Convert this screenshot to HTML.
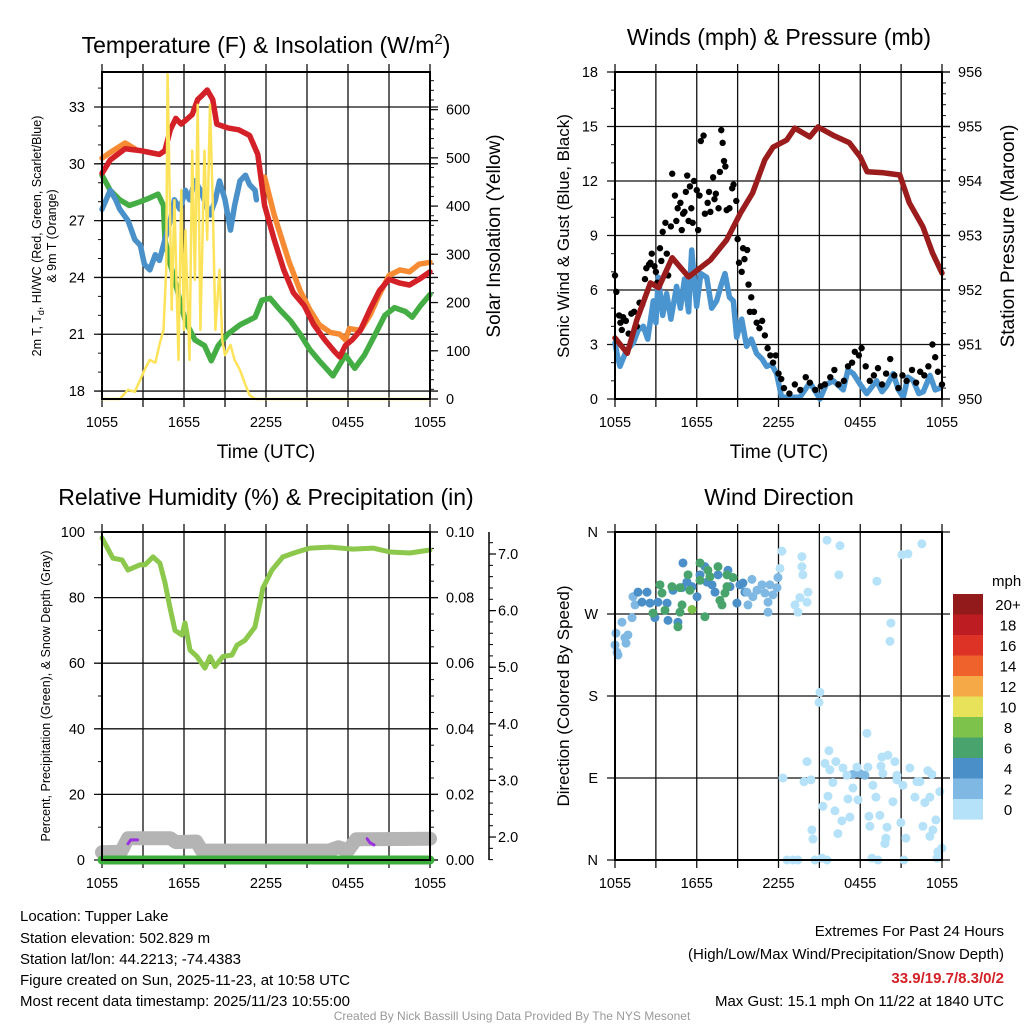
<!DOCTYPE html>
<html><head><meta charset="utf-8"><style>
html,body{margin:0;padding:0;background:#fff;}
svg{display:block;font-family:"Liberation Sans",Arial,sans-serif;}
</style></head><body>
<svg id="s" width="1024" height="1024" viewBox="0 0 1024 1024" xmlns="http://www.w3.org/2000/svg">
<rect x="0" y="0" width="1024" height="1024" fill="#fff"/>
<g id="layer"></g>
<text x="266" y="53" font-size="23" text-anchor="middle">Temperature (F) &amp; Insolation (W/m<tspan dy="-9" font-size="15">2</tspan><tspan dy="9">)</tspan></text>
<text x="779" y="45" font-size="23" text-anchor="middle">Winds (mph) &amp; Pressure (mb)</text>
<text x="266" y="505" font-size="23" text-anchor="middle">Relative Humidity (%) &amp; Precipitation (in)</text>
<text x="779" y="505" font-size="23" text-anchor="middle">Wind Direction</text>
<text x="266" y="458" font-size="19" text-anchor="middle">Time (UTC)</text>
<text x="779" y="458" font-size="19" text-anchor="middle">Time (UTC)</text>
<text transform="translate(41,236) rotate(-90)" font-size="12.5" text-anchor="middle">2m T, T<tspan dy="3" font-size="9">d</tspan><tspan dy="-3">, HI/WC (Red, Green, Scarlet/Blue)</tspan></text>
<text transform="translate(56,236) rotate(-90)" font-size="12.5" text-anchor="middle">&amp; 9m T (Orange)</text>
<text transform="translate(500,236) rotate(-90)" font-size="19" text-anchor="middle">Solar Insolation (Yellow)</text>
<text transform="translate(569,236) rotate(-90)" font-size="17" text-anchor="middle">Sonic Wind &amp; Gust (Blue, Black)</text>
<text transform="translate(1014,236) rotate(-90)" font-size="19" text-anchor="middle">Station Pressure (Maroon)</text>
<text transform="translate(50,696) rotate(-90)" font-size="12.5" text-anchor="middle">Percent, Precipitation (Green), &amp; Snow Depth (Gray)</text>
<text transform="translate(569,696) rotate(-90)" font-size="17" text-anchor="middle">Direction (Colored By Speed)</text>
<text x="992" y="586" font-size="15">mph</text>
<g font-size="15" fill="#000">
<text x="20" y="921">Location: Tupper Lake</text>
<text x="20" y="943">Station elevation: 502.829 m</text>
<text x="20" y="964">Station lat/lon: 44.2213; -74.4383</text>
<text x="20" y="985">Figure created on Sun, 2025-11-23, at 10:58 UTC</text>
<text x="20" y="1006">Most recent data timestamp: 2025/11/23 10:55:00</text>
</g>
<g font-size="15" text-anchor="end">
<text x="1004" y="936">Extremes For Past 24 Hours</text>
<text x="1004" y="959">(High/Low/Max Wind/Precipitation/Snow Depth)</text>
<text x="1004" y="983" fill="#d42027" font-weight="bold">33.9/19.7/8.3/0/2</text>
<text x="1004" y="1006">Max Gust: 15.1 mph On 11/22 at 1840 UTC</text>
</g>
<text x="512" y="1020" font-size="12" fill="#999" text-anchor="middle">Created By Nick Bassill Using Data Provided By The NYS Mesonet</text>
</svg>
<script>
// ---------- data ----------
const xTickLabels=["1055","1655","2255","0455","1055"];
const redT=[0,0.6,1.7,2.8,3.5,4.2,4.6,5.0,5.4,5.8,6.6,7.0,7.3,7.7,8.1,8.4,9.2,10.0,10.8,11.4,11.9,12.6,13.3,14.0,14.8,15.5,16.3,17.0,17.4,17.8,18.3,18.9,19.6,20.3,21.0,21.8,22.5,23.2,24];
const redV=[29.5,30.2,30.8,30.7,30.6,30.5,30.7,31.8,32.4,32.1,32.6,33.4,33.6,33.9,33.4,32.1,31.9,31.8,31.5,30.5,27.8,26.0,24.4,23.2,22.5,21.5,20.7,20.1,19.8,20.4,20.7,21.2,22.3,23.3,23.9,23.7,23.6,23.9,24.3];
const orangeT=[0,0.6,1.7,2.4,2.5,11.9,12.6,13.7,14.5,15.2,15.9,16.7,17.4,17.8,18.1,18.9,19.6,20.3,21.0,21.8,22.5,23.2,24];
const orangeV=[30.3,30.6,31.1,30.8,null,29.3,27.3,24.8,23.3,22.3,21.5,21.1,21.0,20.7,21.3,21.2,22.0,23.1,24.1,24.4,24.3,24.7,24.8];
const greenT=[0,0.6,1.3,2.0,2.8,3.5,4.1,4.5,4.6,5.0,5.3,5.7,6.1,6.8,7.5,8.0,8.5,9.2,10.1,11.2,11.7,12.3,13.0,13.8,14.5,15.2,15.9,16.9,17.4,17.8,18.5,19.2,20.0,20.7,21.4,22.2,22.7,23.3,24];
const greenV=[29.4,28.6,28.1,27.8,28.0,28.2,28.4,27.8,26.0,24.7,23.9,22.8,21.7,20.7,20.4,19.6,20.4,21.0,21.5,21.9,22.8,22.9,22.3,21.7,21.0,20.2,19.6,18.8,19.4,19.9,19.2,19.9,21.0,22.0,22.4,22.2,21.9,22.5,23.1];
const blueT=[0,0.6,1.0,1.3,1.9,2.4,2.8,3.1,3.5,3.9,4.2,4.6,5.0,5.3,5.7,6.1,6.4,6.8,7.2,7.9,8.3,8.6,9.0,9.4,9.7,10.1,10.5,10.8,11.2,11.3];
const blueV=[27.6,28.6,28.1,27.6,27.0,26.0,25.7,24.7,24.4,25.2,24.9,26.0,27.0,28.1,27.6,28.6,28.1,29.1,28.6,27.3,28.1,29.1,28.1,26.5,27.8,29.1,29.4,28.9,28.6,28.1];
const solarT=[0,1.3,1.9,2.4,2.8,3.1,3.5,3.9,4.2,4.5,4.7,4.8,5.1,5.3,5.6,5.8,6.0,6.1,6.4,6.6,6.8,7.0,7.2,7.5,7.7,7.9,8.1,8.3,8.6,8.8,9.0,9.4,9.7,10.1,10.5,10.8,11.2,24];
const solarV=[0,0,19,15,40,60,81,75,112,143,268,678,185,412,81,434,143,350,81,515,247,610,143,515,330,610,412,143,268,122,91,112,81,60,29,8,0,0];
const presT=[0,0.9,1.6,2.6,3.2,4.2,5.4,7.0,8.2,9.2,10.1,11.0,11.6,12.6,13.2,14.3,14.9,16.0,17.2,18.0,18.5,19.7,20.9,21.6,22.6,23.3,24];
const presV=[951.12,950.84,951.45,952.13,952.04,952.59,952.24,952.55,952.92,953.41,953.78,954.39,954.62,954.75,954.97,954.81,954.99,954.84,954.70,954.44,954.17,954.15,954.11,953.60,953.16,952.68,952.31];
const windT=[0,0.2,0.37,0.8,1.34,1.7,2.08,2.4,2.81,3.0,3.18,3.5,3.79,4.1,4.52,4.8,5.1,5.4,5.63,5.99,6.3,6.73,7.1,7.46,7.8,8.07,8.4,8.68,8.93,9.3,9.66,10.0,10.39,10.8,11.13,11.5,11.86,12.23,13.0,13.57,14.31,15.04,15.5,16.02,16.75,17.1,17.49,18.0,18.47,19.2,19.6,19.93,20.42,20.8,21.16,21.5,21.89,22.3,22.63,23.12,23.5,23.86,24];
const windV=[3.1,2.3,1.8,2.6,3.1,3.8,4.0,3.3,5.4,4.2,6.7,4.6,5.8,4.4,6.2,5.0,6.6,4.8,8.2,5.1,6.9,6.7,5.0,5.4,6.3,6.9,5.6,5.4,3.4,4.4,2.9,3.3,2.5,2.2,1.8,1.9,1.4,0.1,0.1,0.1,0.9,0.0,0.8,1.0,0.5,1.6,1.4,0.8,0.3,1.0,0.4,0.7,1.4,0.5,0.1,1.2,1.0,0.3,0.4,1.3,0.5,0.6,0.8];
const gustT=[0,0.1,0.3,0.4,0.5,0.6,0.8,1.0,1.2,1.4,1.6,1.8,2.0,2.2,2.3,2.5,2.6,2.7,2.9,3.0,3.1,3.3,3.4,3.5,3.7,3.8,3.9,4.1,4.2,4.4,4.5,4.6,4.8,4.9,5.0,5.1,5.2,5.3,5.4,5.5,5.6,5.7,5.8,6.0,6.1,6.2,6.3,6.5,6.6,6.8,6.9,7.0,7.2,7.3,7.4,7.6,7.7,7.8,7.9,8.0,8.1,8.2,8.4,8.6,8.7,8.9,9.0,9.1,9.3,9.4,9.5,9.7,9.8,9.9,10.0,10.2,10.4,10.6,10.8,11.0,11.2,11.4,11.6,11.8,12.0,12.2,12.4,12.8,13.2,13.6,14.0,14.3,14.7,15.1,15.4,15.8,16.1,16.4,16.8,17.1,17.4,17.6,17.9,18.1,18.4,18.7,19.0,19.3,19.6,19.9,20.2,20.5,20.8,21.1,21.4,21.8,22.1,22.4,22.7,23.0,23.3,23.5,23.7,24.0];
const gustV=[6.8,5.9,4.6,4.2,3.8,4.5,4.3,3.6,4.7,4.8,4.0,5.3,5.2,6.6,7.2,7.4,7.5,8.0,7.3,7.0,6.4,8.3,7.6,9.2,9.7,8.0,6.8,9.5,12.4,11.2,9.8,10.5,10.8,9.3,10.2,10.3,11.4,12.3,9.8,11.7,10.5,9.7,12.0,11.5,9.3,11.2,14.2,14.5,10.2,10.8,11.4,10.3,12.2,11.0,11.3,10.5,12.5,14.8,14.1,13.1,12.8,10.4,10.5,11.6,11.8,10.9,8.8,7.5,7.0,8.3,7.7,8.2,6.3,4.8,5.6,4.8,4.2,3.9,4.3,3.5,2.8,2.4,2.0,2.4,1.4,1.1,0.6,0.3,0.8,0.5,1.2,0.9,0.5,0.7,0.8,1.2,1.6,0.8,1.0,1.8,2.0,2.6,2.4,2.8,1.8,1.0,1.3,1.7,0.8,1.4,2.2,1.3,0.6,1.3,1.0,1.6,0.9,1.5,1.3,1.8,3.0,2.3,1.5,0.8];
const rhT=[0,0.8,1.46,1.9,2.78,3.15,3.73,4.24,4.61,4.97,5.34,5.85,6.07,6.44,6.95,7.53,7.9,8.27,8.85,9.51,9.88,10.46,11.19,11.56,11.78,12.44,13.24,14.26,15.22,16.68,18.36,19.82,21.07,22.53,24];
const rhV=[98.2,92,91.5,88.4,90,90,92.4,90.5,84.5,77,70,68.6,72.3,64,62,58.5,62,59,62,62.5,65.5,67,71,78.4,83,88.4,92.4,93.9,95.1,95.4,94.8,95.1,93.9,93.6,94.5];
const precipT=[0,24];
const precipV=[0,0];
const snowT=[0,1.4,1.9,5.0,5.4,6.9,7.3,16.6,17.3,18.0,18.6,24];
const snowV=[1.73,1.74,1.98,1.98,1.91,1.92,1.76,1.76,1.82,1.76,1.96,1.97];
const snowAltT=[1.9,2.1,2.6];
const snowAltV=[1.88,1.95,1.95];
const snowAlt2T=[19.4,19.6,19.9];
const snowAlt2V=[1.97,1.9,1.86];
const dirT=[0,0.15,0.22,0.07,0.51,0.73,0.95,0.81,1.25,1.32,1.47,
1.69,1.98,2.35,2.57,2.93,3.15,3.82,3.89,4.26,4.62,4.92,4.99,5.28,5.65,6.02,6.24,6.60,6.75,7.12,7.34,7.56,8.29,8.44,8.95,9.17,9.54,9.39,
2.79,3.30,3.45,3.67,4.18,4.62,4.77,4.92,5.36,5.50,6.24,6.24,6.60,6.82,6.97,7.56,7.70,7.85,8.07,8.22,8.22,8.66,4.77,5.65,
9.68,10.05,10.12,10.42,10.79,11.0,11.23,11.37,11.59,11.89,11.96,11.23,9.76,17.46,17.98,18.34,
12.25,12.11,13.21,13.43,13.57,13.72,13.72,13.79,14.16,14.09,15.56,16.51,16.43,19.22,21.06,21.50,22.52,20.25,20.18,15.04,14.97,18.49,15.70,14.09,15.41,15.77,16.21,16.73,17.02,17.76,18.56,19.52,19.59,20.03,20.54,19.66,20.69,21.64,22.96,23.26,12.33,13.87,14.38,15.99,17.46,18.93,20.69,21.13,22.16,22.38,23.84,15.63,17.10,17.83,19.15,20.40,22.01,22.74,23.11,15.26,16.14,17.24,18.64,19.44,16.65,18.71,19.96,20.98,22.60,23.55,14.45,16.36,23.33,14.53,19.88,21.35,23.11,19.81,23.70,23.99,12.62,13.06,13.43,14.67,15.19,15.56,18.86,19.30,21.20,23.63];
const dirV=[236,228,225,249,261,244,247,238,266,289,280,
294,283,294,282,266,283,282,263,296,261,299,326,305,300,289,313,322,305,302,294,313,318,300,282,302,294,304,
271,302,293,274,300,256,272,280,313,296,326,307,267,318,311,322,285,280,293,313,300,310,299,275,
294,308,289,296,302,293,283,302,291,299,310,272,280,94,95,93,
339,320,280,272,288,333,322,313,294,283,351,345,313,306,335,336,347,260,240,184,173,139,120,108,106,99,108,101,93,102,102,103,113,115,108,95,93,101,98,94,90,86,88,85,79,82,88,82,86,86,75,70,67,66,69,64,69,63,69,59,54,47,48,49,43,37,36,41,37,44,33,29,33,23,24,24,26,18,9,13,0,0,0,0,2,0,2,0,0,2];
const dirSpd=[3,3,3,3,3,3,3,3,3,3,3,
5,5,5,5,5,5,5,5,5,5,5,5,5,5,5,5,5,5,5,5,5,5,5,5,5,5,5,
7,7,7,7,7,7,7,7,7,7,7,7,7,7,7,7,7,7,7,7,7,7,7,9,
3,3,3,3,3,3,3,3,3,3,3,3,3,3,3,3,
1,1,1,1,1,1,1,1,1,1,1,1,1,1,1,1,1,1,1,1,1,1,1,1,1,1,1,1,1,1,1,1,1,1,1,1,1,1,1,1,1,1,1,1,1,1,1,1,1,1,1,1,1,1,1,1,1,1,1,1,1,1,1,1,1,1,1,1,1,1,1,1,1,1,1,1,1,1,1,1,1,1,1,1,1,1,1,1,1,1];
const cbLabels=["20+","18","16","14","12","10","8","6","4","2","0"];
const cbColors=["#931a1a","#bd1c22","#dd3327","#f0622c","#f6a947","#e7e25a","#7dc24a","#48a46c","#4a8fc8","#7fb9e3","#b5e2f8"];
const tempTicks=[18,21,24,27,30,33];
const solarTicks=[0,100,200,300,400,500,600];
const windTicks=[0,3,6,9,12,15,18];
const presTicks=[950,951,952,953,954,955,956];
const rhTicks=[0,20,40,60,80,100];
const precipTicks=["0.00","0.02","0.04","0.06","0.08","0.10"];
const snowTicks=["2.0","3.0","4.0","5.0","6.0","7.0"];
const dirTicks=["N","E","S","W","N"];

// ---------- helpers ----------
const NS="http://www.w3.org/2000/svg";
const L=document.getElementById('layer');
function mk(tag,attrs,parent){const e=document.createElementNS(NS,tag);for(const k in attrs)e.setAttribute(k,attrs[k]);(parent||L).appendChild(e);return e;}
function lin(d0,d1,r0,r1){return v=>r0+(v-d0)/(d1-d0)*(r1-r0);}
function pathD(ts,vs,fx,fy){let d="",pen=false;for(let i=0;i<ts.length;i++){if(vs[i]===null){pen=false;continue;}d+=(pen?"L":"M")+fx(ts[i]).toFixed(1)+","+fy(vs[i]).toFixed(1);pen=true;}return d;}
function speedColor(s){let b=Math.min(10,Math.floor(s/2));return cbColors[10-b];}

function frame(P,name){
  const fx=lin(0,24,P.x0,P.x1);
  for(let i=0;i<=8;i++){
    const x=fx(i*3);
    const g=mk('line',{x1:x,x2:x,y1:P.y0-8,y2:P.y1+8,stroke:'#111','stroke-width':1.3});
    
    
  }
  for(let i=0;i<5;i++){
    const t=mk('text',{x:fx(i*6),y:P.y1+28,'font-size':14.5,'text-anchor':'middle'});
    t.textContent=xTickLabels[i];
    
    
  }
  return fx;
}
function hgrid(P,fy,vals,name,minorStep,lo,hi){
  vals.forEach(v=>{const y=fy(v);
    const g=mk('line',{x1:P.x0-8,x2:P.x1+8,y1:y,y2:y,stroke:'#111','stroke-width':1.3});
    
    
  });
  if(minorStep){for(let v=lo;v<=hi+1e-9;v+=minorStep){const y=fy(v);if(y<P.y0-0.5||y>P.y1+0.5)continue;
    const m=mk('line',{x1:P.x0-4,x2:P.x0,y1:y,y2:y,stroke:'#111','stroke-width':1});
    
    }}
}
function leftLabels(P,fy,vals,labels,name){
  vals.forEach((v,i)=>{const t=mk('text',{x:P.x0-17,y:fy(v)+5,'font-size':14.5,'text-anchor':'end'});
    t.textContent=labels[i];
    
    });
}
function rightAxis(P,fy,vals,labels,name,minorStep,lo,hi){
  vals.forEach((v,i)=>{const y=fy(v);
    const k=mk('line',{x1:P.x1,x2:P.x1+8,y1:y,y2:y,stroke:'#111','stroke-width':1.3});
    
    
    const t=mk('text',{x:P.x1+16,y:y+5,'font-size':14.5});
    t.textContent=labels[i];
    
    });
  for(let v=lo;v<=hi+1e-9;v+=minorStep){const y=fy(v);if(y<P.y0-0.5||y>P.y1+0.5)continue;
    const m=mk('line',{x1:P.x1,x2:P.x1+4,y1:y,y2:y,stroke:'#111','stroke-width':1});
    
    }
}
function border(P,name){
  const r=mk('rect',{x:P.x0,y:P.y0,width:P.x1-P.x0,height:P.y1-P.y0,fill:'none',stroke:'#000','stroke-width':2});
  
  
}
function line(ts,vs,fx,fy,color,w,name){
  const p=mk('path',{d:pathD(ts,vs,fx,fy),fill:'none',stroke:color,'stroke-width':w,'stroke-linejoin':'round','stroke-linecap':'round'});
  
  
  return p;
}

// ---------- Panel 1 ----------
const P1={x0:102,x1:430,y0:72,y1:399};
const fx1=frame(P1,'temp');
const fyT=lin(17.58,34.85,P1.y1,P1.y0);
const fyS=lin(0,678,P1.y1,P1.y0);
hgrid(P1,fyT,tempTicks,'temp',1,18,34);
leftLabels(P1,fyT,tempTicks,tempTicks.map(String),'temp');
rightAxis(P1,fyS,solarTicks,solarTicks.map(String),'solar',20,0,660);
line(orangeT,orangeV,fx1,fyT,'#f68b33',5.5,'series-9m-temp');
line(greenT,greenV,fx1,fyT,'#44ad44',5.5,'series-dewpoint');
line(blueT,blueV,fx1,fyT,'#4a90c9',5.5,'series-windchill');
line(redT,redV,fx1,fyT,'#d42027',5.5,'series-2m-temp');
line(solarT,solarV,fx1,fyS,'#fde35a',2.5,'series-solar-insolation');
border(P1,'temp');

// ---------- Panel 2 ----------
const P2={x0:615,x1:942,y0:72,y1:399};
const fx2=frame(P2,'wind');
const fyW=lin(0,18,P2.y1,P2.y0);
const fyP=lin(950,956,P2.y1,P2.y0);
hgrid(P2,fyW,windTicks,'wind',1,0,18);
leftLabels(P2,fyW,windTicks,windTicks.map(String),'wind');
rightAxis(P2,fyP,presTicks,presTicks.map(String),'pressure',0.2,950,956);
line(windT,windV,fx2,fyW,'#4a95d0',5.5,'series-wind-speed');
gustT.forEach((t,i)=>{
  const c=mk('circle',{cx:fx2(t),cy:fyW(gustV[i]),r:3.2,fill:'#000'});
  
  
});
line(presT,presV,fx2,fyP,'#9b1c1c',5.5,'series-pressure');
border(P2,'wind');

// ---------- Panel 3 ----------
const P3={x0:102,x1:430,y0:532,y1:860};
const fx3=frame(P3,'rh');
const fyR=lin(0,100,P3.y1,P3.y0);
const fyPr=lin(0,0.1,P3.y1,P3.y0);
const fySn=lin(1.594,7.389,P3.y1,P3.y0);
hgrid(P3,fyR,rhTicks,'rh',10,0,100);
leftLabels(P3,fyR,rhTicks,rhTicks.map(String),'rh');
rightAxis(P3,fyPr,precipTicks.map(Number),precipTicks,'precip',0.005,0,0.1);
(function(){
  const ax=489;
  const a=mk('line',{x1:ax,x2:ax,y1:P3.y0,y2:P3.y1,stroke:'#000','stroke-width':1.5});
  
  
  snowTicks.forEach(s=>{const y=fySn(Number(s));
    const k=mk('line',{x1:ax,x2:ax+7,y1:y,y2:y,stroke:'#000','stroke-width':1.2});
    
    
    const t=mk('text',{x:ax+9,y:y+5,'font-size':14.5});
    t.textContent=s;
    
    });
  for(let v=1.6;v<=7.39;v+=0.2){const y=fySn(v);
    const m=mk('line',{x1:ax,x2:ax+4,y1:y,y2:y,stroke:'#000','stroke-width':1});
    
    }
})();
line(snowT,snowV,fx3,fySn,'#b4b4b4',14,'series-snow-depth');
line(snowAltT,snowAltV,fx3,fySn,'#9b30e0',3,'series-snow-depth-alt');
line(snowAlt2T,snowAlt2V,fx3,fySn,'#9b30e0',3,'series-snow-depth-alt2');
line(precipT,precipV,fx3,fyPr,'#3cae3c',9,'series-precipitation');
line(rhT,rhV,fx3,fyR,'#8cc84b',5,'series-relative-humidity');
border(P3,'rh');

// ---------- Panel 4 ----------
const P4={x0:615,x1:942,y0:532,y1:860};
const fx4=frame(P4,'direction');
const fyD=lin(0,360,P4.y1,P4.y0);
hgrid(P4,fyD,[0,90,180,270,360],'direction',0,0,0);
dirTicks.forEach((lab,i)=>{const t=mk('text',{x:P4.x0-17,y:fyD(i*90)+5,'font-size':14.5,'text-anchor':'end'});
  t.textContent=lab;
  
  });
dirT.forEach((t,i)=>{
  const c=mk('circle',{cx:fx4(t),cy:fyD(dirV[i]),r:4.5,fill:speedColor(dirSpd[i])});
  
  
});
border(P4,'direction');
cbColors.forEach((c,i)=>{
  const y=594+i*20.5;
  const r=mk('rect',{x:953,y:y,width:30,height:20.6,fill:c});
  
  
  const t=mk('text',{x:1008,y:y+16,'font-size':15,'text-anchor':'middle'});
  t.textContent=cbLabels[i];
  
  
});
</script>
</body></html>
